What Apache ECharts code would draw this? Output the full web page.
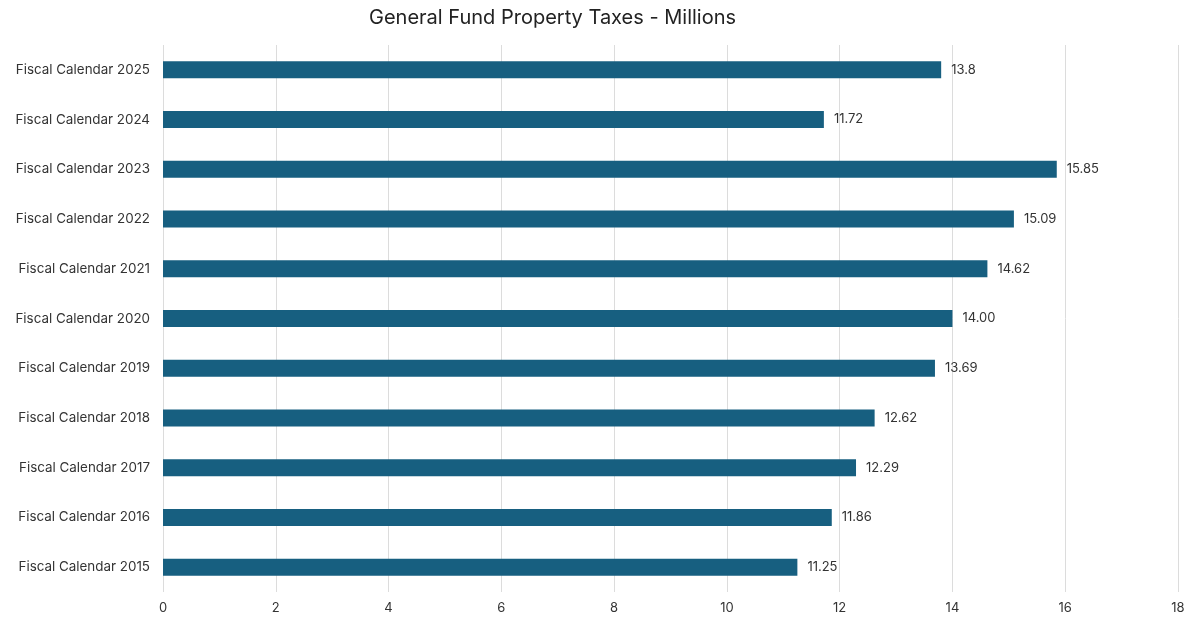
<!DOCTYPE html>
<html>
<head>
<meta charset="utf-8">
<script src="https://cdn.jsdelivr.net/npm/echarts@6/dist/echarts.min.js"></script>
<style>
  html, body { margin: 0; padding: 0; background: #fff; }
  #chart { width: 1202px; height: 618px; }
</style>
</head>
<body>
<div id="chart"></div>
<script>
const years = ['Fiscal Calendar 2015', 'Fiscal Calendar 2016', 'Fiscal Calendar 2017', 'Fiscal Calendar 2018',
  'Fiscal Calendar 2019', 'Fiscal Calendar 2020', 'Fiscal Calendar 2021', 'Fiscal Calendar 2022',
  'Fiscal Calendar 2023', 'Fiscal Calendar 2024', 'Fiscal Calendar 2025'];
const taxes = [11.25, 11.86, 12.29, 12.62, 13.69, 14.00, 14.62, 15.09, 15.85, 11.72, 13.8];
// labels as shown on the chart (2020 keeps its trailing zeros, 2025 does not)
const taxLabels = ['11.25', '11.86', '12.29', '12.62', '13.69', '14.00', '14.62', '15.09', '15.85', '11.72', '13.8'];

const myChart = echarts.init(document.getElementById('chart'));
myChart.setOption({
  textStyle: { fontFamily: 'Inter' },
  title: {
    text: 'General Fund Property Taxes - Millions',
    left: 364,
    top: 3,
    textStyle: { fontFamily: 'Inter', fontSize: 20, fontWeight: 'normal', color: '#222' },
  },
  grid: { left: 163, right: 24, top: 45, bottom: 26 },
  xAxis: {
    type: 'value',
    min: 0,
    max: 18,
    interval: 2,
    axisLine: { show: false },
    axisTick: { show: false },
    axisLabel: { color: '#333', fontSize: 13, margin: 10 },
    splitLine: { show: true, lineStyle: { color: '#dcdcdc', width: 1 } },
  },
  yAxis: {
    type: 'category',
    data: years,
    axisLine: { show: false },
    axisTick: { show: false },
    axisLabel: { color: '#333', fontSize: 13.4, margin: 13 },
  },
  series: [
    {
      type: 'bar',
      data: taxes,
      barWidth: 17,
      itemStyle: { color: '#175f80' },
      label: {
        show: true,
        position: 'right',
        distance: 10,
        color: '#333',
        fontSize: 13,
        formatter: (p) => taxLabels[p.dataIndex],
      },
    },
  ],
});
window.addEventListener('resize', () => {
  myChart.resize();
});
</script>
</body>
</html>
